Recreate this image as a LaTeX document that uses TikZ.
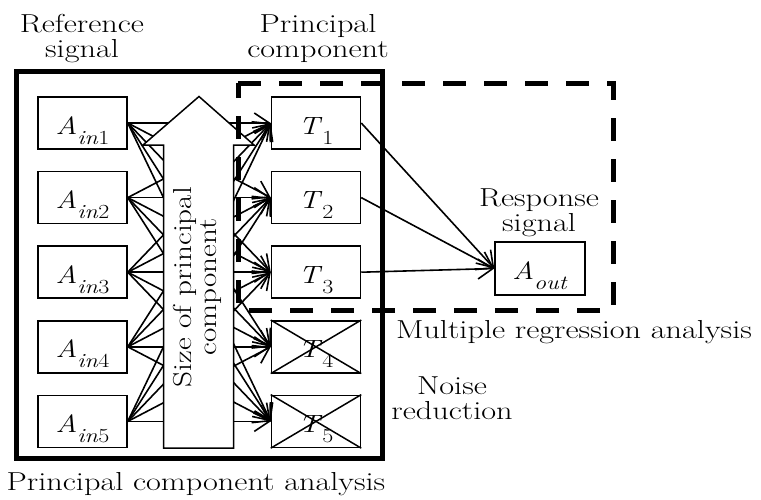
\documentclass[tikz,border=0pt]{standalone}
\usepackage{fontspec}
\usetikzlibrary{arrows.meta}
\newcommand\mylab[2]{\raisebox{-11pt}[0pt][0pt]{\scalebox{1.2}[1]{\textit{#1}\raisebox{-10pt}{\fontsize{20}{20}\selectfont #2}}}}
\begin{document}
\begin{tikzpicture}[x=1pt,y=-1pt,
  font=\fontsize{26}{25}\selectfont,
  box/.style={draw, line width=1.5pt, minimum width=89pt, minimum height=52pt, inner sep=0pt, font=\fontsize{25}{25}\selectfont},
  conn/.style={line width=1.6pt, -{Straight Barb[length=15pt,width=20pt]}},
  txt/.style={align=center, inner sep=0pt, transform shape, xscale=1.24}]
\useasboundingbox (0,0) rectangle (761,499);
% boxes
\foreach \i/\y in {1/123,2/197.6,3/272.2,4/346.8,5/421.4}{
  \node[box] (a\i) at (82.5,\y) {\mylab{A}{\textit{in}\i}};
  \node[box] (t\i) at (316,\y) {\mylab{T}{\i}};
}
\node[box, minimum width=90pt, minimum height=53pt] (aout) at (540,268.5) {\mylab{A}{\textit{out}}};
% crosses
\foreach \k in {4,5}{
  \draw[line width=1.5pt] (t\k.north west) -- (t\k.south east);
  \draw[line width=1.5pt] (t\k.south west) -- (t\k.north east);
}
% connectors
\foreach \i in {1,...,5}{
  \foreach \j in {1,...,5}{
    \draw[conn] (a\i.east) -- (t\j.west);
  }
}
\foreach \j in {1,2,3}{
  \draw[conn] (t\j.east) -- (aout.west);
}
% big arrow
\draw[line width=1.5pt, fill=white] (163.5,448) -- (163.5,145) -- (143,145) -- (199,96.5) -- (254,145) -- (233.5,145) -- (233.5,448) -- cycle;
\node[align=center, inner sep=0pt, transform shape, rotate=90, xscale=1.2] (size) at (197,287) {Size of principal\\component};
% frames
\node[draw, line width=5pt, minimum width=366pt, minimum height=387pt, inner sep=0pt] (pca) at (199,264.5) {};
\draw[line width=5pt, dash pattern=on 23pt off 18pt] (238,83) -- (613,83) -- (613,310) -- (238,310) -- cycle;
% labels
\node[txt] (refsig) at (82,38.5) {Reference\\signal};
\node[txt] (pcomp) at (318,38.5) {Principal\\component};
\node[txt] (resp) at (539,213) {Response\\signal};
\node[txt, anchor=base] (mra) at (574,338) {Multiple regression analysis};
\node[txt] (noise) at (452,398) {Noise\\reduction};
\node[txt, anchor=base] (pcalab) at (196,490) {Principal component analysis};
\end{tikzpicture}
\end{document}
